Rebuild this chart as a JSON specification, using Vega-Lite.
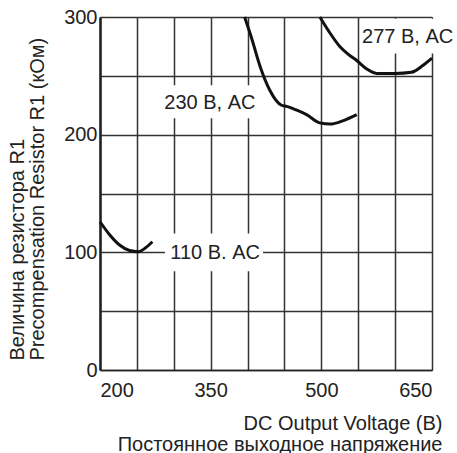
{
  "$schema": "https://vega.github.io/schema/vega-lite/v6.json",
  "autosize": "none",
  "width": 332,
  "height": 353,
  "padding": {"left": 100, "top": 17, "right": 25, "bottom": 83},
  "background": "white",
  "view": {"stroke": null},
  "config": {
    "font": "Liberation Sans",
    "axis": {
      "gridColor": "#333333",
      "gridWidth": 1.5,
      "gridOpacity": 1,
      "domainColor": "#222222",
      "ticks": false,
      "labelFont": "Liberation Sans",
      "labelFontSize": 20,
      "labelColor": "#222222",
      "titleFont": "Liberation Sans",
      "titleFontSize": 20,
      "titleFontWeight": "normal",
      "titleColor": "#222222"
    }
  },
  "datasets": {
    "curves": [
      {"series": "110", "v": 200, "r": 126},
      {"series": "110", "v": 213, "r": 115},
      {"series": "110", "v": 227, "r": 106},
      {"series": "110", "v": 240, "r": 101.5},
      {"series": "110", "v": 252, "r": 100.5},
      {"series": "110", "v": 261, "r": 103.5},
      {"series": "110", "v": 271, "r": 109},
      {"series": "230", "v": 396, "r": 300},
      {"series": "230", "v": 405, "r": 283},
      {"series": "230", "v": 417, "r": 258},
      {"series": "230", "v": 430, "r": 238},
      {"series": "230", "v": 446, "r": 225},
      {"series": "230", "v": 453, "r": 224},
      {"series": "230", "v": 466, "r": 221},
      {"series": "230", "v": 480, "r": 217},
      {"series": "230", "v": 498, "r": 210},
      {"series": "230", "v": 512, "r": 209},
      {"series": "230", "v": 530, "r": 212},
      {"series": "230", "v": 548, "r": 217},
      {"series": "277", "v": 498, "r": 300},
      {"series": "277", "v": 510, "r": 288},
      {"series": "277", "v": 525, "r": 275},
      {"series": "277", "v": 537, "r": 268},
      {"series": "277", "v": 548, "r": 263},
      {"series": "277", "v": 561, "r": 256},
      {"series": "277", "v": 575, "r": 252},
      {"series": "277", "v": 600, "r": 252},
      {"series": "277", "v": 622, "r": 253},
      {"series": "277", "v": 638, "r": 259},
      {"series": "277", "v": 650, "r": 265}
    ],
    "boxes": [
      {"v": 285, "v2": 413, "r": 214, "r2": 242},
      {"v": 288, "v2": 421, "r": 84, "r2": 116},
      {"v": 553, "v2": 668, "r": 269, "r2": 298.5}
    ],
    "labels": [
      {"text": "230 В, AC", "v": 349, "r": 227},
      {"text": "110 В. AC", "v": 356, "r": 99.5},
      {"text": "277 В, AC", "v": 617, "r": 283}
    ]
  },
  "encoding": {
    "x": {"field": "v", "type": "quantitative", "scale": {"domain": [200, 650], "nice": false, "zero": false},
      "axis": {
        "values": [200, 250, 300, 350, 400, 450, 500, 550, 600, 650],
        "labelExpr": "datum.value % 150 == 50 ? datum.label : ''",
        "labelOverlap": false,
        "labelPadding": 10,
        "domainWidth": 1.5,
        "title": ["DC Output Voltage (B)", "Постоянное выходное напряжение"],
        "titleAlign": "right",
        "titleAnchor": "end",
        "titleX": 342,
        "titleY": 59,
        "titleBaseline": "alphabetic",
        "titleLineHeight": 21
      }},
    "y": {"field": "r", "type": "quantitative", "scale": {"domain": [0, 300], "nice": false},
      "axis": {
        "values": [0, 50, 100, 150, 200, 250, 300],
        "labelExpr": "datum.value % 100 == 0 ? datum.label : ''",
        "labelOverlap": false,
        "labelPadding": 3,
        "domainWidth": 2.5,
        "title": ["Величина резистора R1", "Precompensation Resistor R1 (кОм)"],
        "titleAngle": -90,
        "titleAlign": "left",
        "titleAnchor": "start",
        "titleBaseline": "alphabetic",
        "titleX": -77,
        "titleY": 343,
        "titleLineHeight": 20
      }}
  },
  "layer": [
    {
      "data": {"name": "boxes"},
      "mark": {"type": "rect", "fill": "white", "stroke": null, "clip": false},
      "encoding": {
        "x2": {"field": "v2"},
        "y2": {"field": "r2"}
      }
    },
    {
      "data": {"name": "curves"},
      "mark": {"type": "line", "color": "#111111", "strokeWidth": 3, "interpolate": "monotone"},
      "encoding": {
        "detail": {"field": "series"}
      }
    },
    {
      "data": {"name": "labels"},
      "mark": {"type": "text", "fontSize": 20, "color": "#222222", "align": "center", "baseline": "middle", "font": "Liberation Sans"},
      "encoding": {
        "text": {"field": "text"}
      }
    }
  ]
}
